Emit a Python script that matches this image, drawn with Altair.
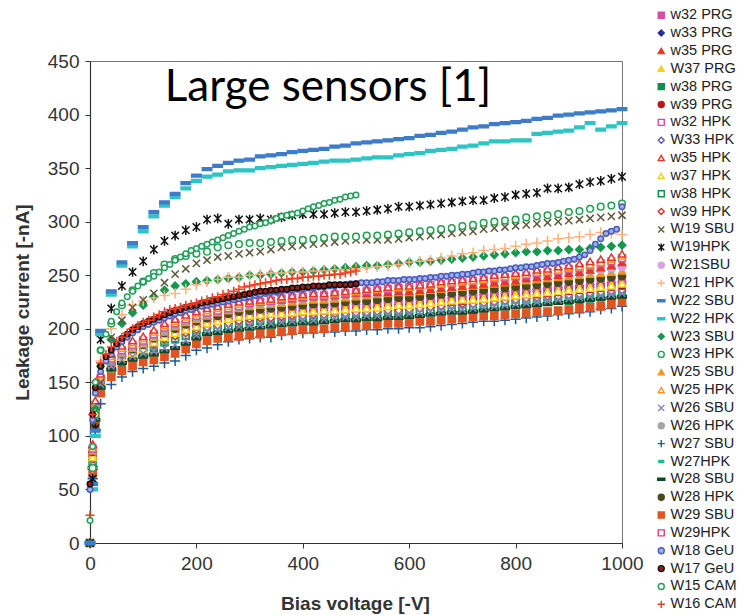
import altair as alt
import pandas as pd

# ---------------- voltage grids (V) ----------------
V20 = [0, 5, 10, 20, 40, 60, 80, 100, 120, 140, 160, 180, 200, 220, 240, 260, 280, 300,
       320, 340, 360, 380, 400, 420, 440, 460, 480, 500, 520, 540, 560, 580, 600,
       620, 640, 660, 680, 700, 720, 740, 760, 780, 800, 820, 840, 860, 880, 900,
       920, 940, 960, 980, 1000]
V10H = [0, 5, 10, 20, 30, 40, 50, 60, 70, 80, 90, 100, 110, 120, 130, 140, 150, 160, 170,
        180, 190, 200, 210, 220, 230, 240, 250, 260, 270, 280, 290, 300, 310, 320, 330,
        340, 350, 360, 370, 380, 390, 400, 410, 420, 430, 440, 450, 460, 470, 480, 490, 500]
V10F = V10H + [510, 520, 530, 540, 550, 560, 570, 580, 590, 600, 610, 620, 630, 640, 650,
               660, 670, 680, 690, 700, 710, 720, 730, 740, 750, 760, 770, 780, 790, 800,
               810, 820, 830, 840, 850, 860, 870, 880, 890, 900, 910, 920, 930, 940, 950,
               960, 970, 980, 990, 1000]

# ---------------- leakage currents (-nA) ----------------
I_W35_HPK = [0, 92, 133, 158, 176, 184, 189, 193,
             199, 205, 209, 213, 216, 219, 221, 223, 225, 226,
             227, 228, 230, 231, 232, 233, 233, 234, 235, 236,
             237, 238, 239, 240, 240,
             241, 242, 244, 245, 246, 247, 248, 250, 251, 252, 253, 255, 256, 258, 259, 261, 263, 265, 267, 270]
I_W25_HPK = [0, 90, 131, 156, 174, 182, 187, 191,
             197, 203, 207, 211, 214, 217, 219, 221, 223, 225,
             226, 227, 229, 230, 231, 232, 232, 233, 234, 235,
             236, 237, 238, 239, 239,
             240, 241, 242, 243, 244, 245, 246, 248, 249, 250, 251, 253, 254, 255, 257, 258, 260, 262, 265, 268]
I_w32_HPK = [0, 88, 129, 154, 172, 180, 185, 189,
             195, 201, 205, 209, 212, 215, 217, 219, 221, 224,
             225, 226, 228, 229, 230, 231, 231, 232, 233, 234,
             235, 236, 237, 238, 239,
             240, 241, 242, 243, 244, 245, 246, 247, 248, 249, 250, 252, 253, 254, 256, 257, 259, 261, 263, 266]
I_W21SBU = [0, 90, 130, 155, 173, 181, 186, 190,
            196, 202, 207, 211, 215, 218, 220, 222, 224, 226,
            227, 228, 230, 231, 232, 233, 233, 234, 235, 236,
            237, 238, 239, 240, 240,
            241, 241, 242, 243, 244, 245, 246, 246, 247, 248, 249, 250, 251, 252, 253, 254, 255, 256, 257, 258]
I_W26_HPK = [0, 87, 127, 152, 170, 178, 183, 187,
             193, 198, 203, 207, 210, 213, 216, 218, 220, 222,
             223, 224, 226, 227, 228, 229, 229, 230, 231, 232,
             232, 233, 234, 235, 236,
             237, 238, 239, 240, 241, 242, 243, 244, 245, 246, 247, 248, 249, 250, 251, 252, 254, 255, 256, 258]
I_W25_SBU = [0, 86, 126, 151, 169, 177, 182, 186,
             192, 197, 202, 206, 209, 212, 215, 217, 219, 221,
             222, 223, 224, 225, 226, 227, 227, 228, 229, 230,
             231, 232, 233, 234, 234,
             235, 236, 237, 238, 239, 240, 241, 242, 243, 244, 245, 246, 247, 248, 249, 250, 251, 252, 253, 254]
I_w35_PRG = [0, 92, 132, 157, 174, 182, 187, 191,
             197, 202, 206, 210, 213, 216, 218, 220, 222, 224,
             225, 226, 227, 228, 229, 230, 230, 231, 232, 233,
             233, 234, 234, 235, 235,
             236, 237, 238, 239, 240, 241, 242, 243, 244, 245, 247, 248, 249, 250, 252, 253, 255, 257, 259, 262]
I_W37_PRG = [0, 82, 122, 147, 165, 173, 178, 182,
             188, 193, 197, 200, 203, 206, 208, 210, 212, 213,
             214, 215, 215, 216, 217, 217, 218, 218, 219, 220,
             220, 221, 222, 223, 223,
             224, 225, 226, 227, 228, 228, 229, 230, 231, 232, 233, 234, 235, 236, 237, 238, 239, 240, 241, 243]
I_w37_HPK = [0, 80, 120, 146, 164, 172, 177, 181,
             187, 192, 196, 199, 202, 205, 207, 209, 211, 212,
             213, 214, 214, 215, 216, 216, 217, 217, 218, 219,
             219, 220, 221, 222, 222,
             223, 224, 225, 226, 227, 227, 228, 229, 230, 231, 232, 233, 234, 235, 236, 237, 238, 239, 240, 242]
I_W28_HPK = [0, 85, 125, 150, 168, 176, 181, 185,
             191, 196, 200, 204, 207, 210, 212, 214, 216, 217,
             218, 219, 220, 221, 222, 223, 223, 224, 225, 226,
             226, 227, 228, 229, 229,
             230, 231, 232, 233, 234, 235, 236, 237, 238, 239, 240, 241, 242, 243, 244, 245, 246, 247, 248, 249]
I_w32_PRG = [0, 83, 123, 148, 166, 174, 179, 183,
             189, 194, 198, 202, 205, 208, 210, 212, 214, 215,
             216, 217, 218, 219, 220, 221, 221, 222, 223, 224,
             224, 225, 226, 227, 227,
             228, 229, 230, 231, 232, 233, 234, 235, 236, 237, 238, 239, 240, 241, 242, 243, 243, 244, 245, 246]
I_W29HPK = [0, 81, 121, 146, 164, 172, 177, 181,
            186, 191, 194, 198, 200, 203, 205, 207, 209, 211,
            212, 213, 213, 214, 215, 215, 216, 216, 217, 218,
            218, 219, 220, 220, 221,
            222, 223, 224, 225, 226, 227, 228, 229, 230, 231, 232, 233, 234, 235, 236, 237, 238, 239, 240, 241]
I_w33_PRG = [0, 84, 124, 149, 167, 175, 180, 184,
             190, 195, 199, 203, 206, 209, 211, 213, 215, 216,
             217, 218, 219, 220, 221, 222, 222, 223, 224, 225,
             225, 226, 227, 228, 228,
             229, 230, 231, 231, 232, 233, 234, 234, 235, 236, 237, 237, 238, 239, 240, 240, 241, 242, 243, 244]
I_W33_HPK = [0, 82, 122, 148, 166, 174, 179, 183,
             189, 194, 198, 201, 204, 207, 209, 211, 213, 214,
             215, 216, 217, 218, 219, 220, 220, 221, 222, 223,
             223, 224, 225, 226, 226,
             227, 228, 229, 229, 230, 231, 232, 232, 233, 234, 235, 235, 236, 237, 238, 238, 239, 240, 241, 242]
I_w39_PRG = [0, 80, 120, 145, 164, 172, 177, 181,
             187, 192, 196, 199, 202, 205, 207, 209, 211, 212,
             213, 214, 214, 215, 216, 216, 217, 217, 218, 219,
             219, 220, 221, 222, 222,
             223, 224, 225, 225, 226, 227, 228, 229, 230, 231, 232, 232, 233, 234, 235, 236, 237, 238, 239, 240]
I_w39_HPK = [0, 78, 118, 144, 163, 171, 176, 180,
             185, 190, 193, 196, 199, 201, 203, 205, 207, 209,
             210, 210, 211, 212, 212, 213, 213, 214, 214, 215,
             215, 216, 217, 217, 218,
             219, 220, 221, 222, 223, 223, 224, 225, 226, 227, 228, 229, 230, 230, 231, 232, 233, 234, 235, 236]
I_w38_HPK = [0, 76, 116, 142, 161, 169, 174, 178,
             183, 188, 191, 194, 197, 199, 201, 203, 205, 207,
             208, 209, 209, 210, 211, 211, 212, 212, 213, 214,
             214, 215, 216, 216, 217,
             217, 218, 219, 220, 220, 221, 222, 222, 223, 224, 224, 225, 226, 227, 227, 228, 229, 230, 231, 232]
I_w38_PRG = [0, 75, 115, 141, 160, 168, 173, 177,
             182, 187, 190, 193, 196, 198, 200, 202, 204, 206,
             207, 207, 208, 208, 209, 209, 210, 210, 211, 212,
             212, 213, 214, 214, 215,
             216, 217, 218, 218, 219, 220, 221, 221, 222, 223, 223, 224, 225, 226, 226, 227, 228, 229, 230, 231]
I_W27HPK = [0, 76, 116, 142, 161, 169, 174, 178,
            183, 188, 192, 195, 198, 200, 202, 204, 206, 208,
            209, 209, 210, 211, 211, 212, 212, 213, 213, 214,
            214, 215, 216, 216, 217,
            218, 219, 219, 220, 221, 222, 222, 223, 224, 225, 225, 226, 227, 228, 228, 229, 230, 231, 232, 233]
I_W28_SBU = [0, 70, 115, 145, 162, 168, 171, 174,
             176, 179, 182, 186, 191, 195, 196, 198, 199, 200,
             201, 202, 203, 204, 205, 205, 206, 207, 208, 208,
             209, 209, 210, 210, 211,
             212, 213, 214, 215, 215, 216, 217, 218, 219, 220, 221, 222, 223, 224, 225, 226, 227, 228, 229, 230]
I_W26_SBU = [0, 72, 118, 148, 165, 171, 174, 177,
             179, 182, 185, 189, 194, 198, 199, 201, 202, 203,
             204, 205, 206, 207, 208, 208, 209, 210, 211, 211,
             212, 212, 213, 213, 214,
             215, 216, 217, 218, 218, 219, 220, 221, 222, 223, 224, 225, 226, 227, 228, 229, 230, 231, 232, 233]
I_W29_SBU = [0, 65, 110, 140, 155, 161, 165, 169,
             171, 174, 177, 181, 186, 189, 191, 192, 193, 194,
             195, 196, 197, 198, 199, 200, 200, 201, 202, 203,
             203, 204, 205, 205, 206,
             207, 207, 208, 209, 210, 211, 212, 212, 213, 214, 215, 216, 216, 217, 218, 219, 220, 221, 223, 225]
I_W27_SBU = [0, 60, 105, 130, 148, 155, 160, 163,
             165, 168, 170, 175, 180, 182, 185, 188, 190, 191,
             192, 192, 194, 195, 196, 196, 197, 197, 198, 198,
             199, 199, 200, 200, 201,
             201, 202, 203, 204, 205, 206, 207, 207, 208, 209, 210, 211, 212, 213, 214, 215, 216, 218, 219, 221]
I_W22_SBU = [0, 55, 105, 198, 235, 262, 280, 295,
             309, 318, 326, 336, 343, 349, 352, 355, 357, 358,
             361, 362, 363, 365, 366, 367, 368, 370, 371, 373,
             374, 375, 376, 377, 378,
             380, 381, 383, 384, 386, 388, 389, 391, 392, 393, 394, 396, 397, 399, 400, 401, 402, 403, 404, 405]
I_W22_HPK = [0, 50, 100, 195, 232, 259, 277, 291,
             305, 315, 323, 331, 338, 342, 344, 347, 348, 348,
             350, 351, 352, 353, 354, 355, 356, 357, 357, 358,
             359, 360, 360, 362, 363,
             364, 366, 367, 368, 370, 371, 373, 375, 375, 376, 376, 382, 383, 384, 385, 388, 392, 386, 389, 392]
I_W19HPK = [0, 60, 107, 190, 219, 240, 253, 263,
            274, 282, 287, 292, 295, 302, 303, 298, 302, 302,
            303, 302, 304, 306, 307, 307, 307, 308, 309, 309,
            310, 311, 312, 314, 314,
            315, 316, 317, 318, 319, 320, 320, 322, 323, 325, 326, 327, 331, 331, 332, 335, 337, 338, 340, 342]
I_W23_HPK = [0, 70, 120, 180, 205, 222, 236, 244,
             252, 260, 265, 268, 270, 272, 276, 278, 279, 280,
             280, 281, 282, 283, 283, 284, 285, 286, 286, 286,
             287, 287, 288, 289, 290,
             291, 292, 293, 294, 296, 297, 299, 300, 301, 302, 304, 305, 306, 307, 309, 310, 312, 314, 315, 317]
I_W19_SBU = [0, 60, 110, 150, 192, 208, 220, 227,
             233, 243, 251, 256, 261, 264, 267, 268, 270, 271,
             272, 274, 276, 277, 278, 279, 280, 281, 282, 283,
             283, 283, 283, 284, 285,
             286, 287, 288, 289, 290, 291, 293, 294, 295, 296, 297, 298, 299, 300, 301, 302, 303, 304, 305, 306]
I_W21_HPK = [0, 70, 120, 170, 200, 213, 222, 226,
             229, 231, 233, 237, 241, 244, 246, 248, 248, 250,
             251, 252, 252, 253, 253, 254, 254, 255, 255, 256,
             257, 258, 259, 260, 262,
             263, 264, 266, 268, 270, 271, 273, 274, 275, 277, 279, 280, 282, 284, 285, 286, 288, 290, 289, 288]
I_W23_SBU = [0, 70, 125, 165, 190, 205, 215, 222,
             230, 236, 240, 242, 244, 245, 246, 247, 248, 250,
             250, 251, 252, 253, 253, 254, 255, 256, 257, 258,
             259, 259, 260, 261, 262,
             262, 263, 264, 265, 266, 267, 268, 269, 270, 271, 272, 272, 273, 273, 274, 274, 275, 276, 277, 278]
I_W15_CAM = [21, 90, 150,
             180, 195, 207, 216, 224, 230, 235, 240, 244,
             247, 249, 253, 257, 260, 264, 267, 270, 273, 275,
             277, 279, 281, 283, 285, 287, 289, 291, 293, 295,
             296, 298, 299, 301, 303, 305, 306, 307, 308, 310,
             312, 314, 315, 317, 318, 320, 321, 323, 324, 325]
I_W16_CAM = [26, 120, 150,
             168, 176, 183, 188, 192, 196, 200, 203, 206,
             208, 211, 213, 216, 218, 219, 220, 222, 223, 224,
             226, 227, 229, 230, 232, 233, 235, 237, 239, 240,
             241, 242, 243, 244, 245, 246, 246, 247, 247, 248,
             248, 249, 249, 250, 250, 251, 251, 252, 253, 254]
I_W17_GeU = [55, 120, 145,
             165, 174, 180, 186, 191, 195, 199, 202, 205,
             207, 209, 211, 213, 215, 217, 218, 220, 221, 222,
             224, 225, 226, 227, 228, 229, 230, 231, 232, 233,
             234, 235, 235, 236, 236, 237, 237, 238, 238, 239,
             239, 240, 240, 240, 241, 241, 241, 241, 241, 242]
I_W18_GeU = [50, 115, 140,
             160, 170, 176, 183, 188, 192, 196, 199, 202,
             204, 206, 208, 210, 212, 214, 215, 217, 218, 220,
             221, 222, 223, 224, 225, 226, 227, 228, 229, 230,
             231, 232, 233, 234, 234, 235, 236, 236, 237, 237,
             238, 238, 239, 239, 240, 240, 241, 241, 242, 242,
             243, 243, 243, 244, 244, 245, 245, 245, 246, 246,
             246, 247, 247, 248, 248, 249, 249, 250, 250, 251,
             251, 252, 253, 253, 254, 254, 255, 255, 256, 257,
             257, 258, 258, 259, 260, 261, 261, 262, 263, 264,
             265, 267, 269, 273, 279, 284, 289, 291, 293, 314]

# ---------------- legend order and styles ----------------
P_X = "M-1,-1L1,1M-1,1L1,-1"
P_AST = "M-1,-1L1,1M-1,1L1,-1M0,-1.3L0,1.3"
P_PLUS = "M-1.2,0L1.2,0M0,-1.2L0,1.2"
P_DASH = "M-1.2,-0.35L1.2,-0.35L1.2,0.35L-1.2,0.35Z"
P_SDASH = "M-0.8,-0.35L0.8,-0.35L0.8,0.35L-0.8,0.35Z"

# name, shape, fill, stroke, marker size, (V, I)
STYLE = [
    ("w32 PRG", "square", "#d84ea6", "#d84ea6", 44, (V20, I_w32_PRG)),
    ("w33 PRG", "diamond", "#2d2f90", "#2d2f90", 52, (V20, I_w33_PRG)),
    ("w35 PRG", "triangle-up", "#e8352a", "#e8352a", 52, (V20, I_w35_PRG)),
    ("W37 PRG", "triangle-up", "#f7d117", "#f7d117", 52, (V20, I_W37_PRG)),
    ("w38 PRG", "square", "#0e8f4e", "#0e8f4e", 44, (V20, I_w38_PRG)),
    ("w39 PRG", "circle", "#b71c1c", "#b71c1c", 44, (V20, I_w39_PRG)),
    ("w32 HPK", "square", "#ffffff", "#d84ea6", 44, (V20, I_w32_HPK)),
    ("W33 HPK", "diamond", "#ffffff", "#5a5ab0", 52, (V20, I_W33_HPK)),
    ("w35 HPK", "triangle-up", "#ffffff", "#e8352a", 52, (V20, I_W35_HPK)),
    ("w37 HPK", "triangle-up", "#ffffff", "#f7d117", 52, (V20, I_w37_HPK)),
    ("w38 HPK", "square", "#ffffff", "#0e8f4e", 44, (V20, I_w38_HPK)),
    ("w39 HPK", "diamond", "#ffffff", "#d93030", 52, (V20, I_w39_HPK)),
    ("W19 SBU", P_X, "#5c5a3a", "#5c5a3a", 52, (V20, I_W19_SBU)),
    ("W19HPK", P_AST, "#111111", "#111111", 56, (V20, I_W19HPK)),
    ("W21SBU", "circle", "#d9a3e3", "#d9a3e3", 52, (V20, I_W21SBU)),
    ("W21 HPK", P_PLUS, "#ffb27f", "#ffb27f", 78, (V20, I_W21_HPK)),
    ("W22 SBU", P_DASH, "#3d7cc9", "#3d7cc9", 62, (V20, I_W22_SBU)),
    ("W22 HPK", P_DASH, "#2ec4c4", "#2ec4c4", 62, (V20, I_W22_HPK)),
    ("W23 SBU", "diamond", "#13994f", "#13994f", 58, (V20, I_W23_SBU)),
    ("W23 HPK", "circle", "#ffffff", "#22a050", 44, (V20, I_W23_HPK)),
    ("W25 SBU", "triangle-up", "#f7941d", "#f7941d", 52, (V20, I_W25_SBU)),
    ("W25 HPK", "triangle-up", "#ffffff", "#f7941d", 52, (V20, I_W25_HPK)),
    ("W26 SBU", P_X, "#8585c2", "#8585c2", 46, (V20, I_W26_SBU)),
    ("W26 HPK", "circle", "#a5a5a5", "#a5a5a5", 52, (V20, I_W26_HPK)),
    ("W27 SBU", P_PLUS, "#1f5a96", "#1f5a96", 72, (V20, I_W27_SBU)),
    ("W27HPK", P_SDASH, "#1abc9c", "#1abc9c", 52, (V20, I_W27HPK)),
    ("W28 SBU", P_DASH, "#0c4a25", "#0c4a25", 52, (V20, I_W28_SBU)),
    ("W28 HPK", "circle", "#4b4a1c", "#4b4a1c", 52, (V20, I_W28_HPK)),
    ("W29 SBU", "square", "#e2541f", "#e2541f", 52, (V20, I_W29_SBU)),
    ("W29HPK", "square", "#ffffff", "#d4477c", 44, (V20, I_W29HPK)),
    ("W18 GeU", "circle", "#a3b0e6", "#4a5bbf", 30, (V10F, I_W18_GeU)),
    ("W17 GeU", "circle", "#a01818", "#111111", 30, (V10H, I_W17_GeU)),
    ("W15 CAM", "circle", "#ffffff", "#22a05a", 30, (V10H, I_W15_CAM)),
    ("W16 CAM", P_PLUS, "#f03c1e", "#f03c1e", 56, (V10H, I_W16_CAM)),
]

SERIES = [s[0] for s in STYLE]
SHAPES = [s[1] for s in STYLE]
FILLS = [s[2] for s in STYLE]
STROKES = [s[3] for s in STYLE]

# drawing order: middle cluster, lower band, upper curves, dense curves last
DRAW_FIRST = ["W29HPK", "w38 PRG", "w38 HPK", "W27HPK", "w39 HPK", "w39 PRG", "W33 HPK",
              "w33 PRG", "w32 PRG", "W37 PRG", "w37 HPK", "W28 HPK", "W25 SBU", "W26 HPK",
              "W21SBU", "w35 PRG", "w32 HPK", "W25 HPK", "w35 HPK",
              "W27 SBU", "W29 SBU", "W28 SBU", "W26 SBU",
              "W23 SBU", "W21 HPK", "W19 SBU", "W23 HPK", "W19HPK", "W22 HPK", "W22 SBU",
              "W18 GeU", "W17 GeU", "W16 CAM", "W15 CAM"]

lookup = {s[0]: s for s in STYLE}
rows = []
for z, name in enumerate(DRAW_FIRST):
    _, _, _, _, sz, (vv, ii) = lookup[name]
    assert len(vv) == len(ii), (name, len(vv), len(ii))
    for k, (v, i) in enumerate(zip(vv, ii)):
        rows.append({"series": name, "V": v, "I": i, "sz": sz, "z": z * 1000 + k})
df = pd.DataFrame(rows)

TITLE = "Large sensors [1]"

leg = alt.Legend(title=None, orient="none", legendX=564, legendY=-53,
                 labelFont="Liberation Sans", labelFontSize=14.5, labelColor="#222222",
                 symbolSize=36, symbolStrokeWidth=1.4, rowPadding=2.85, padding=0,
                 labelOffset=2, symbolLimit=60)

points = alt.Chart(df).mark_point(filled=False, strokeWidth=1.5, opacity=1).encode(
    x=alt.X("V:Q", scale=alt.Scale(domain=[0, 1000], nice=False),
            axis=alt.Axis(values=[0, 200, 400, 600, 800, 1000], format="d",
                          title="Bias voltage [-V]",
                          titleX=265, titleY=60, titleBaseline="middle", titleAlign="center")),
    y=alt.Y("I:Q", scale=alt.Scale(domain=[0, 450], nice=False),
            axis=alt.Axis(values=[0, 50, 100, 150, 200, 250, 300, 350, 400, 450], format="d",
                          title="Leakage current [-nA]", titleX=-68, titleY=241,
                          titleAngle=270, titleBaseline="middle", titleAlign="center")),
    shape=alt.Shape("series:N", scale=alt.Scale(domain=SERIES, range=SHAPES), legend=leg),
    fill=alt.Fill("series:N", scale=alt.Scale(domain=SERIES, range=FILLS), legend=leg),
    stroke=alt.Stroke("series:N", scale=alt.Scale(domain=SERIES, range=STROKES), legend=leg),
    size=alt.Size("sz:Q", scale=None),
    order=alt.Order("z:Q"),
)

title_text = alt.Chart(pd.DataFrame({"t": [TITLE]})).mark_text(
    font="Lato", fontSize=44, align="center", baseline="middle", color="#000000"
).encode(x=alt.value(238), y=alt.value(27), text="t:N")

chart = alt.layer(points, title_text).properties(
    width=532, height=482,
    autosize=alt.AutoSizeParams(type="none"),
    padding={"left": 90, "top": 61, "right": 122, "bottom": 72},
).configure_view(stroke="#777777", strokeWidth=1).configure_axis(
    grid=False, labelFont="Liberation Sans", labelFontSize=19, labelColor="#333333",
    titleFont="Liberation Sans", titleFontSize=19, titleFontWeight="bold", titleColor="#333333",
    domainColor="#333333", domainWidth=1.2, tickColor="#333333", tickSize=5,
    labelPadding=6, labelFlush=False,
).configure_axisX(labelPadding=6)

chart.save("out.html", embed_options={"renderer": "svg", "actions": False})
